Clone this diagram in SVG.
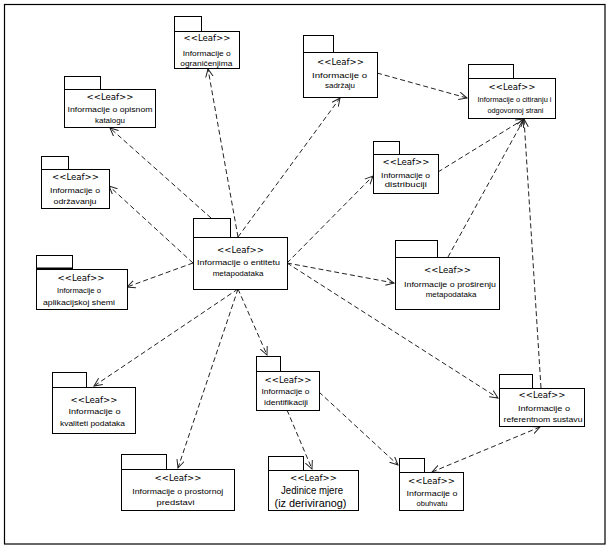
<svg xmlns="http://www.w3.org/2000/svg" width="613" height="551" viewBox="0 0 613 551">
<defs>
<marker id="arr" viewBox="0 0 10 10" refX="9" refY="5" markerWidth="9" markerHeight="9" markerUnits="userSpaceOnUse" orient="auto-start-reverse">
<path d="M0,0.8 L9,5 L0,9.2" fill="none" stroke="#222" stroke-width="1.1"/>
</marker>
</defs>
<style>
.frame{fill:#fff;stroke:#000;stroke-width:1.2}
.box{fill:#fff;stroke:#000;stroke-width:1}
.c{fill:none;stroke:#222;stroke-width:1;stroke-dasharray:5,3}
.st{font-family:"DejaVu Sans","Liberation Sans",sans-serif;font-size:8.6px;text-anchor:middle;fill:#000}
.t{font-family:"Liberation Sans","DejaVu Sans",sans-serif;font-size:8px;text-anchor:middle;fill:#000}
.tl{font-family:"Liberation Sans","DejaVu Sans",sans-serif;font-size:10px;text-anchor:middle;fill:#000}
</style>
<rect x="0" y="0" width="613" height="551" fill="#fff"/>
<rect class="frame" x="4.5" y="4.5" width="600.5" height="539.5"/>

<g id="connectors">
<path class="c" d="M238,237 L208,69" marker-end="url(#arr)"/>
<path class="c" d="M211,218 L110,128" marker-end="url(#arr)"/>
<path class="c" d="M193,263 L109,186" marker-end="url(#arr)"/>
<path class="c" d="M193,263 L127,287" marker-end="url(#arr)"/>
<path class="c" d="M238,237 L340,98" marker-end="url(#arr)"/>
<path class="c" d="M287,263 L373,176" marker-end="url(#arr)"/>
<path class="c" d="M287,263 L394,283" marker-end="url(#arr)"/>
<path class="c" d="M287,263 L498,398" marker-end="url(#arr)"/>
<path class="c" d="M238,289 L94,386" marker-end="url(#arr)"/>
<path class="c" d="M238,289 L178,468" marker-end="url(#arr)"/>
<path class="c" d="M238,289 L267,355" marker-end="url(#arr)"/>
<path class="c" d="M377,73 L467,98" marker-end="url(#arr)"/>
<path class="c" d="M438,172 L524,119" marker-end="url(#arr)"/>
<path class="c" d="M448,257 L524,119" marker-end="url(#arr)"/>
<path class="c" d="M541,388 L524,119" marker-end="url(#arr)"/>
<path class="c" d="M287,410 L312,469" marker-end="url(#arr)"/>
<path class="c" d="M319,392 L398,465" marker-end="url(#arr)"/>
<path class="c" d="M540,427 L432,472" marker-start="url(#arr)" marker-end="url(#arr)"/>
</g>

<g id="n-ogranicenjima">
<rect class="box" x="174.5" y="16.5" width="27" height="15"/>
<rect class="box" x="174.5" y="31.5" width="65" height="37"/>
<text class="st" x="207" y="41">&lt;&lt;Leaf&gt;&gt;</text>
<text class="t" x="206.7" y="55.5" textLength="48" lengthAdjust="spacingAndGlyphs">Informacije o</text>
<text class="t" x="206.3" y="65.5" textLength="52" lengthAdjust="spacingAndGlyphs">ograničenjima</text>
</g>

<g id="n-katalogu">
<rect class="box" x="64.5" y="76.5" width="36" height="13"/>
<rect class="box" x="64.5" y="89.5" width="91" height="38"/>
<text class="st" x="110" y="100">&lt;&lt;Leaf&gt;&gt;</text>
<text class="t" x="110" y="112" textLength="85" lengthAdjust="spacingAndGlyphs">Informacije o opisnom</text>
<text class="t" x="110" y="123" textLength="30" lengthAdjust="spacingAndGlyphs">katalogu</text>
</g>

<g id="n-sadrzaju">
<rect class="box" x="303.5" y="35.5" width="30" height="17"/>
<rect class="box" x="303.5" y="52.5" width="74" height="45"/>
<text class="st" x="340.5" y="65">&lt;&lt;Leaf&gt;&gt;</text>
<text class="t" x="339.5" y="78" textLength="55" lengthAdjust="spacingAndGlyphs">Informacije o</text>
<text class="t" x="340" y="88" textLength="30" lengthAdjust="spacingAndGlyphs">sadržaju</text>
</g>

<g id="n-citiranju">
<rect class="box" x="468.5" y="64.5" width="45" height="14"/>
<rect class="box" x="468.5" y="78.5" width="87" height="40"/>
<text class="st" x="512" y="90">&lt;&lt;Leaf&gt;&gt;</text>
<text class="t" x="514.5" y="102" textLength="74" lengthAdjust="spacingAndGlyphs">Informacije o citiranju i</text>
<text class="t" x="515.5" y="113" textLength="56" lengthAdjust="spacingAndGlyphs">odgovornoj strani</text>
</g>

<g id="n-odrzavanju">
<rect class="box" x="41.5" y="156.5" width="27" height="13"/>
<rect class="box" x="41.5" y="169.5" width="68" height="39"/>
<text class="st" x="75.5" y="180">&lt;&lt;Leaf&gt;&gt;</text>
<text class="t" x="75" y="193" textLength="50" lengthAdjust="spacingAndGlyphs">Informacije o</text>
<text class="t" x="75" y="204" textLength="43" lengthAdjust="spacingAndGlyphs">održavanju</text>
</g>

<g id="n-shemi">
<rect class="box" x="36.5" y="255.5" width="36" height="14"/>
<line x1="36" y1="268.5" x2="73" y2="268.5" stroke="#000" stroke-width="2"/>
<rect class="box" x="36.5" y="269.5" width="91" height="40"/>
<text class="st" x="81" y="281">&lt;&lt;Leaf&gt;&gt;</text>
<text class="t" x="79" y="293" textLength="44" lengthAdjust="spacingAndGlyphs">Informacije o</text>
<text class="t" x="79" y="305" textLength="72" lengthAdjust="spacingAndGlyphs">aplikacijskoj shemi</text>
</g>

<g id="n-entitet">
<rect class="box" x="193.5" y="218.5" width="37" height="19"/>
<rect class="box" x="193.5" y="237.5" width="94" height="52"/>
<text class="st" x="240.5" y="253">&lt;&lt;Leaf&gt;&gt;</text>
<text class="t" x="238.5" y="265" textLength="83" lengthAdjust="spacingAndGlyphs">Informacije o entitetu</text>
<text class="t" x="238" y="276">metapodataka</text>
</g>

<g id="n-distribuciji">
<rect class="box" x="373.5" y="141.5" width="26" height="13"/>
<rect class="box" x="373.5" y="154.5" width="65" height="39"/>
<text class="st" x="406" y="165">&lt;&lt;Leaf&gt;&gt;</text>
<text class="t" x="405.5" y="178" textLength="49" lengthAdjust="spacingAndGlyphs">Informacije o</text>
<text class="t" x="405.8" y="187" textLength="42" lengthAdjust="spacingAndGlyphs">distribuciji</text>
</g>

<g id="n-prosirenju">
<rect class="box" x="395.5" y="240.5" width="42" height="17"/>
<rect class="box" x="395.5" y="257.5" width="104" height="52"/>
<text class="st" x="447.5" y="273">&lt;&lt;Leaf&gt;&gt;</text>
<text class="t" x="450" y="287" textLength="92" lengthAdjust="spacingAndGlyphs">Informacije o proširenju</text>
<text class="t" x="451" y="297">metapodataka</text>
</g>

<g id="n-kvaliteti">
<rect class="box" x="52.5" y="372.5" width="34" height="15"/>
<rect class="box" x="52.5" y="387.5" width="83" height="46"/>
<text class="st" x="94" y="403">&lt;&lt;Leaf&gt;&gt;</text>
<text class="t" x="94.5" y="414" textLength="52" lengthAdjust="spacingAndGlyphs">Informacije o</text>
<text class="t" x="92.5" y="426" textLength="65" lengthAdjust="spacingAndGlyphs">kvaliteti podataka</text>
</g>

<g id="n-prostornoj">
<rect class="box" x="121.5" y="454.5" width="45" height="15"/>
<rect class="box" x="121.5" y="469.5" width="113" height="41"/>
<text class="st" x="178" y="481">&lt;&lt;Leaf&gt;&gt;</text>
<text class="t" x="177.8" y="494" textLength="91" lengthAdjust="spacingAndGlyphs">Informacije o prostornoj</text>
<text class="t" x="175.5" y="505" textLength="38" lengthAdjust="spacingAndGlyphs">predstavi</text>
</g>

<g id="n-identifikaciji">
<rect class="box" x="256.5" y="356.5" width="24" height="15"/>
<rect class="box" x="256.5" y="371.5" width="63" height="39"/>
<text class="st" x="288" y="383">&lt;&lt;Leaf&gt;&gt;</text>
<text class="t" x="285.5" y="394" textLength="48" lengthAdjust="spacingAndGlyphs">Informacije o</text>
<text class="t" x="286" y="405" textLength="44" lengthAdjust="spacingAndGlyphs">identifikaciji</text>
</g>

<g id="n-jedinice">
<rect class="box" x="268.5" y="456.5" width="35" height="14"/>
<rect class="box" x="268.5" y="470.5" width="90" height="40"/>
<text class="st" x="313.5" y="481">&lt;&lt;Leaf&gt;&gt;</text>
<text class="tl" x="312" y="494" textLength="62" lengthAdjust="spacingAndGlyphs">Jedinice mjere</text>
<text class="tl" x="310.5" y="507" textLength="72" lengthAdjust="spacingAndGlyphs">(iz deriviranog)</text>
</g>

<g id="n-obuhvatu">
<rect class="box" x="399.5" y="458.5" width="25" height="14"/>
<rect class="box" x="399.5" y="472.5" width="64" height="38"/>
<text class="st" x="431.5" y="484">&lt;&lt;Leaf&gt;&gt;</text>
<text class="t" x="432" y="496" textLength="51" lengthAdjust="spacingAndGlyphs">Informacije o</text>
<text class="t" x="432" y="506" textLength="31" lengthAdjust="spacingAndGlyphs">obuhvatu</text>
</g>

<g id="n-referentnom">
<rect class="box" x="499.5" y="374.5" width="33" height="14"/>
<rect class="box" x="499.5" y="388.5" width="85" height="38"/>
<text class="st" x="542" y="398">&lt;&lt;Leaf&gt;&gt;</text>
<text class="t" x="544" y="411" textLength="52" lengthAdjust="spacingAndGlyphs">Informacije o</text>
<text class="t" x="543" y="422" textLength="79" lengthAdjust="spacingAndGlyphs">referentnom sustavu</text>
</g>
</svg>
